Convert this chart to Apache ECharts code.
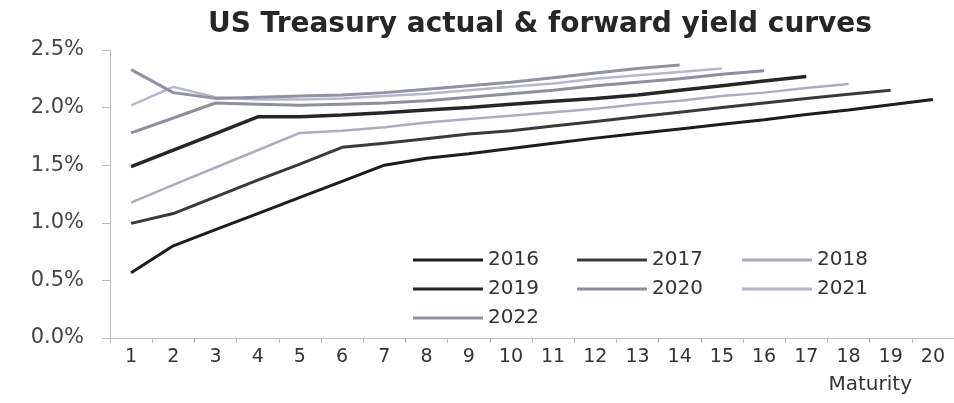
<!DOCTYPE html>
<html>
<head>
<meta charset="utf-8">
<script src="https://cdn.jsdelivr.net/npm/echarts@6/dist/echarts.min.js"></script>
<style>html,body{margin:0;padding:0;background:#fff;}#c{width:954px;height:403px;}</style>
</head>
<body>
<div id="c"></div>
<script>
const maturities = ['1','2','3','4','5','6','7','8','9','10','11','12','13','14','15','16','17','18','19','20'];
const y2016 = [0.567,0.80,0.94,1.08,1.22,1.36,1.50,1.56,1.60,1.645,1.69,1.735,1.775,1.815,1.855,1.895,1.94,1.98,2.025,2.07];
const y2017 = [0.995,1.08,1.225,1.37,1.51,1.655,1.69,1.73,1.77,1.80,1.84,1.88,1.92,1.96,2.00,2.04,2.08,2.115,2.15,null];
const y2018 = [1.175,1.33,1.48,1.63,1.78,1.80,1.83,1.87,1.90,1.93,1.96,1.99,2.03,2.06,2.10,2.13,2.17,2.205,null,null];
const y2019 = [1.487,1.63,1.775,1.92,1.92,1.935,1.955,1.98,2.00,2.03,2.055,2.08,2.11,2.15,2.19,2.23,2.27,null,null,null];
const y2020 = [1.78,1.91,2.04,2.03,2.02,2.03,2.04,2.06,2.09,2.12,2.15,2.19,2.22,2.25,2.29,2.32,null,null,null,null];
const y2021 = [2.02,2.18,2.09,2.07,2.07,2.08,2.10,2.12,2.15,2.18,2.21,2.25,2.28,2.31,2.34,null,null,null,null,null];
const y2022 = [2.33,2.13,2.08,2.09,2.10,2.11,2.13,2.16,2.19,2.22,2.26,2.30,2.34,2.37,null,null,null,null,null,null];
const yTicks = ['0.0%','0.5%','1.0%','1.5%','2.0%','2.5%'];

const seriesDefs = [
  {name:'2016', data:y2016, color:'#1c1c1c', w:3},
  {name:'2017', data:y2017, color:'#3a3a3a', w:3},
  {name:'2018', data:y2018, color:'#acacbe', w:2.5},
  {name:'2019', data:y2019, color:'#262626', w:3.5},
  {name:'2020', data:y2020, color:'#8e8ea0', w:3},
  {name:'2021', data:y2021, color:'#b6b6cc', w:2.5},
  {name:'2022', data:y2022, color:'#9191a3', w:3}
];
const FONT = '"DejaVu Sans", sans-serif';
const chart = echarts.init(document.getElementById('c'), null, {renderer:'canvas'});
const legendBase = {
  orient:'vertical', top:245, itemWidth:70, itemHeight:3, itemGap:9, icon:'rect',
  textStyle:{fontFamily:FONT, fontSize:20, color:'#333'}, selectedMode:false
};
chart.setOption({
  animation:false,
  backgroundColor:'#fff',
  title:{text:'US Treasury actual & forward yield curves', left:535, textAlign:'center', top:6,
    textStyle:{fontFamily:FONT, fontSize:28, fontWeight:'bold', color:'#262626'}},
  grid:{left:110, width:846, top:50, bottom:65},
  legend:[
    Object.assign({}, legendBase, {left:408, data:['2016','2019','2022']}),
    Object.assign({}, legendBase, {left:572, data:['2017','2020']}),
    Object.assign({}, legendBase, {left:737, data:['2018','2021']})
  ],
  xAxis:{type:'category', data:maturities, boundaryGap:true,
    name:'Maturity', nameLocation:'end', nameGap:0,
    nameTextStyle:{fontFamily:FONT, fontSize:20, color:'#333', align:'right', verticalAlign:'top', padding:[37,42,0,0]},
    axisLine:{lineStyle:{color:'#b8bccb', width:1}},
    axisTick:{show:true, length:5, lineStyle:{color:'#b8bccb'}},
    axisLabel:{fontFamily:FONT, fontSize:19, color:'#333', margin:10}},
  yAxis:{type:'value', min:0, max:2.5, interval:0.5,
    axisLine:{show:true, lineStyle:{color:'#b8bccb', width:1}},
    axisTick:{show:true, length:8, lineStyle:{color:'#b8bccb'}},
    splitLine:{show:false},
    axisLabel:{fontFamily:FONT, fontSize:21, color:'#444', margin:26,
      formatter:function(v){ return yTicks[Math.round(v/0.5)]; }}},
  series: seriesDefs.map(s => ({
    name:s.name, type:'line', data:s.data, showSymbol:false, symbol:'none', smooth:false,
    connectNulls:false,
    lineStyle:{color:s.color, width:s.w}, itemStyle:{color:s.color}
  }))
});
</script>
</body>
</html>
